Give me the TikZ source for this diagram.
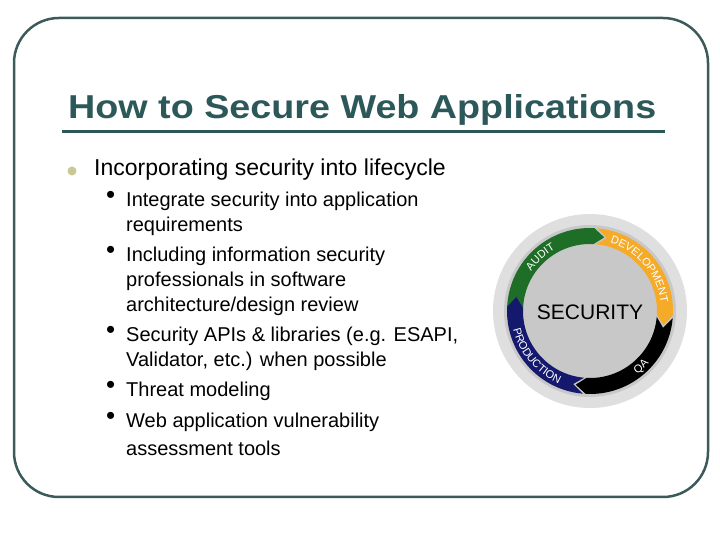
\documentclass[tikz,border=0pt]{standalone}
\usepackage{fontspec}
\setmainfont{Liberation Sans}
\usetikzlibrary{decorations.text}
\definecolor{teal1}{RGB}{44,88,90}
\definecolor{frame}{RGB}{60,90,90}
\definecolor{olive}{RGB}{200,200,150}
\definecolor{wgreen}{RGB}{30,110,40}
\definecolor{worange}{RGB}{245,170,40}
\definecolor{wnavy}{RGB}{20,25,110}
\definecolor{wgrey}{RGB}{200,200,200}
\tikzset{
  line/.style={anchor=west,font=\fontsize{20}{22}\selectfont,inner sep=0pt},
  dot/.style={anchor=west,font=\fontsize{26}{26}\selectfont,inner sep=0pt},
  ringtxt/.style={decorate,decoration={text along path,text align=center,text={|\color{white}\fontsize{11}{12}\selectfont|#1}}}
}
\newcommand{\arrowseg}[3]{% start, end, color (clockwise)
  \fill[#3] (#1:83) arc[start angle=#1,end angle=#2,radius=83] -- (#2-8:75) -- (#2:67) arc[start angle=#2,end angle=#1,radius=67] -- (#1-8:75) -- cycle;}
\begin{document}
\begin{tikzpicture}[x=1pt,y=1pt]
\useasboundingbox (0,0) rectangle (720,540);
\draw[frame,line width=2.5pt,rounded corners=45] (14,43) rectangle (708,522);
\node[anchor=base west,inner sep=0pt,text=teal1] (title) at (68,421) {\resizebox{588pt}{24pt}{\fontsize{28}{30}\selectfont\bfseries How to Secure Web Applications}};
\draw[teal1,line width=3pt] (62,408) -- (665,408);
\fill[olive] (72,369) circle (4.5);
\node[anchor=west,inner sep=0pt,font=\fontsize{23}{24}\selectfont] (main) at (94,370) {Incorporating security into lifecycle};
\foreach \y in {343,288,208,153,122} \node[dot] at (106,\y) {•};
\node[line] (l1) at (126,339) {Integrate security into application};
\node[line] (l2) at (126,314) {requirements};
\node[line] (l3) at (126,284) {Including information security};
\node[line] (l4) at (126,259) {professionals in software};
\node[line] (l5) at (126,234) {architecture/design review};
\node[line] (l6) at (126,204) {Security APIs \& libraries (e.g. ESAPI,};
\node[line] (l7) at (126,179) {Validator, etc.) when possible};
\node[line] (l8) at (126,149) {Threat modeling};
\node[line] (l9) at (126,118) {Web application vulnerability};
\node[line] (l10) at (126,92) {assessment tools};
\begin{scope}[shift={(590,229)}]
  \fill[gray!25] (0,0) circle (97);
  \fill[wgrey] (0,0) circle (86);
  \arrowseg{177}{87}{wgreen}
  \arrowseg{85}{-3}{worange}
  \arrowseg{-5}{-93}{black}
  \arrowseg{-95}{-183}{wnavy}
  \node[font=\fontsize{21}{22}\selectfont] (sec) at (0,-1) {SECURITY};
  \path[ringtxt=AUDIT] (165:71) arc[start angle=165,end angle=100,radius=71];
  \path[ringtxt=DEVELOPMENT] (86:71) arc[start angle=86,end angle=-6,radius=71];
  \path[ringtxt=QA] (-75:79) arc[start angle=-75,end angle=-20,radius=79];
  \path[ringtxt=PRODUCTION] (172:79) arc[start angle=172,end angle=268,radius=79];
\end{scope}
\end{tikzpicture}
\end{document}
